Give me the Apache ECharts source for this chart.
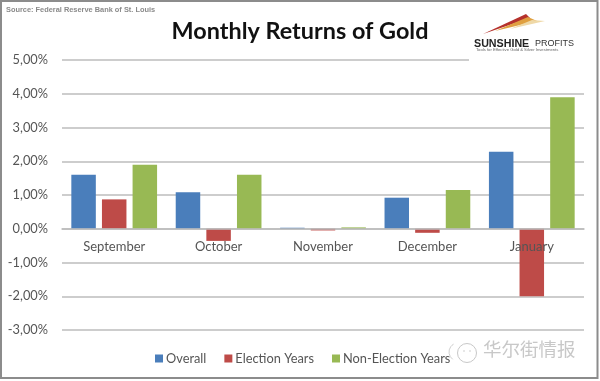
<!DOCTYPE html>
<html><head><meta charset="utf-8">
<style>html,body{margin:0;padding:0;background:#fff}#c{width:600px;height:381px}</style>
<script src="https://cdn.jsdelivr.net/npm/echarts@6/dist/echarts.min.js"></script>
</head><body><div id="c"></div>
<script>
const categories = ['September','October','November','December','January'];
const overall = [1.6, 1.08, 0.03, 0.92, 2.28];
const electionYears = [0.87, -0.36, -0.05, -0.12, -2.0];
const nonElectionYears = [1.9, 1.6, 0.04, 1.15, 3.9];
const seriesNames = ['Overall','Election Years','Non-Election Years'];
const seriesColors = ['#4a7ebb','#be4b48','#98b954'];
const font = 'Lato, Carlito, "Open Sans", sans-serif';
const chart = echarts.init(document.getElementById('c'), null, {renderer:'canvas'});
const bar = (i, data) => ({name: seriesNames[i], type:'bar', data, barWidth:24.5, barGap:'25%',
  itemStyle:{color:seriesColors[i]}});
chart.setOption({
  animation:false,
  backgroundColor:'#fff',
  textStyle:{fontFamily:font},
  title:{text:'Monthly Returns of Gold', left:295, top:15, textAlign:'center',
    textStyle:{fontFamily:font,fontSize:23.4,fontWeight:'bold',color:'#111'}},
  legend:{left:150, top:347, itemWidth:8, itemHeight:8, itemGap:18, icon:'rect',
    textStyle:{fontFamily:font,fontSize:12.8,color:'#555',padding:[0,0,0,-2]},
    data:seriesNames},
  grid:{left:62, right:16, top:60, bottom:51},
  xAxis:{type:'category', data:categories, z:5,
    axisLine:{onZero:true,lineStyle:{color:'#bcbcbc',width:1.5}}, axisTick:{show:false},
    axisLabel:{color:'#555',fontSize:13,margin:-90,fontFamily:font}},
  yAxis:{type:'value', min:-3, max:5, interval:1,
    axisLine:{show:false}, axisTick:{show:false},
    splitLine:{lineStyle:{color:'#bcbcbc',width:1.5}},
    axisLabel:{color:'#555',fontSize:12.8,margin:14,fontFamily:font,
      formatter:v=>v.toFixed(2).replace('.',',')+'%'}},
  series:[bar(0,overall),bar(1,electionYears),bar(2,nonElectionYears)],
  graphic:[
    {type:'rect',z:100,shape:{x:1,y:1,width:596.5,height:377},style:{fill:'none',stroke:'#8c8c8c',lineWidth:2}},
    {type:'rect',z:50,shape:{x:469,y:12,width:118,height:60},style:{fill:'#fff'}},
    {type:'text',z:100,left:6,top:6,style:{text:'Source: Federal Reserve Bank of St. Louis',font:'bold 7.4px "Liberation Sans", sans-serif',fill:'#8a8a8a'}},
    {type:'polygon',z:100,shape:{points:[[483,34],[526,14],[530,18]]},style:{fill:'#b5312c'}},
    {type:'polygon',z:100,shape:{points:[[495,31],[528,17],[537,21]]},style:{fill:'#e0a040'}},
    {type:'polygon',z:100,shape:{points:[[510,29],[532,20],[545,21]]},style:{fill:'#efd9a8'}},
    {type:'text',z:100,left:474,top:39,style:{text:'SUNSHINE',font:'bold 10.7px "Liberation Sans", sans-serif',fill:'#222'}},
    {type:'text',z:100,left:535,top:39,style:{text:'PROFITS',font:'9px "Liberation Sans", sans-serif',fill:'#333'}},
    {type:'text',z:100,left:476,top:48,style:{text:'Tools for Effective Gold & Silver Investments',font:'4.2px "Liberation Sans", sans-serif',fill:'#666'}},
    {type:'arc',z:100,shape:{cx:458,cy:352,r:9,startAngle:2.2,endAngle:4.2},style:{fill:'none',stroke:'#cfcfcf',lineWidth:1}},
    {type:'circle',z:100,shape:{cx:467,cy:353,r:9.5},style:{fill:'none',stroke:'#c8c8c8',lineWidth:1}},
    {type:'circle',z:100,shape:{cx:464,cy:351,r:0.8},style:{fill:'#c8c8c8'}},
    {type:'circle',z:100,shape:{cx:470,cy:351,r:0.8},style:{fill:'#c8c8c8'}},
    {type:'text',z:100,left:483,top:340,style:{text:'华尔街情报',font:'18.5px "Noto Sans CJK SC", sans-serif',fill:'#c8c8c8'}}
  ]
});
</script></body></html>
